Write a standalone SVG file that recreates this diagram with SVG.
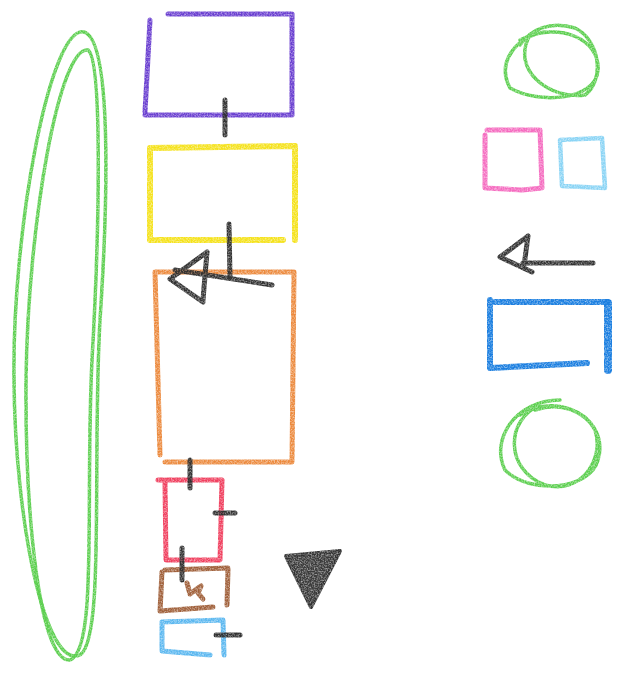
<svg xmlns="http://www.w3.org/2000/svg" width="617" height="689" viewBox="0 0 617 689">
<defs>
<filter id="crayon" filterUnits="userSpaceOnUse" x="0" y="0" width="617" height="689">
<feTurbulence type="fractalNoise" baseFrequency="0.7" numOctaves="2" seed="3" result="n"/>
<feColorMatrix in="n" type="matrix" values="0 0 0 0 0  0 0 0 0 0  0 0 0 0 0  0 0 0 -1.2 1.45" result="a"/>
<feComposite in="SourceGraphic" in2="a" operator="in"/>
</filter>
<style>
.s{fill:none;stroke-linecap:round;stroke-linejoin:round;filter:url(#crayon)}
.purple{stroke:#6a3fd0;stroke-width:5}
.yellow{stroke:#f5e21c;stroke-width:6}
.orange{stroke:#ec8a3e;stroke-width:5}
.red{stroke:#f0405f;stroke-width:5}
.brown{stroke:#a0603a;stroke-width:5}
.lblue{stroke:#5cb8f0;stroke-width:5}
.sky{stroke:#8ad4f5;stroke-width:4.5}
.pink{stroke:#f56cc0;stroke-width:5}
.blue{stroke:#1a7ee0;stroke-width:6}
.green{stroke:#5ccf4f;stroke-width:3.5}
.ink{stroke:#333;stroke-width:5}
</style>
</defs>
<rect width="617" height="689" fill="#fff"/>
<g id="ellipse-left"><path class="s green" d="M84,32 C112,40 108,200 100,320 C92,460 105,640 80,655 C45,670 15,520 14,380 C12,230 50,25 84,32 Z"/><path class="s green" d="M88,50 C102,60 100,220 92,360 C85,500 98,650 70,660 C40,662 25,520 26,380 C28,220 60,45 88,50 Z"/></g>
<g id="box-purple"><path class="s purple" d="M168,14 L292,14 L292,115 L145,115 M150,20 L145,112"/></g>
<g id="box-yellow"><path class="s yellow" d="M150,148 L295,146 L295,240 M283,240 L150,240 L150,148"/></g>
<g id="box-orange"><path class="s orange" d="M155,272 L294,272 L292,462 L165,462 M155,272 L160,455"/></g>
<g id="box-red"><path class="s red" d="M158,480 L222,480 L220,560 L166,560 L165,482"/></g>
<g id="box-brown"><path class="s brown" d="M165,570 L228,568 L227,605 M162,572 L160,611 L213,607 M187,583 L190,594 L198,588 L201,586 L198,593 L203,599"/></g>
<g id="box-lightblue"><path class="s lblue" d="M162,622 L223,620 L224,655 M162,622 L162,651 L210,655"/></g>
<g id="circle-top"><path class="s green" d="M520,40 C560,20 600,40 598,70 C596,100 540,105 510,88 C495,60 520,35 545,32 M530,35 C510,70 550,100 585,95 C605,80 600,40 575,28 C550,20 530,30 520,45"/></g>
<g id="box-pink"><path class="s pink" d="M487,130 L540,130 L542,188 L522,190 M485,135 L485,188 L522,190"/></g>
<g id="box-sky"><path class="s sky" d="M560,140 L602,138 L605,188 L562,186 L560,140"/></g>
<g id="box-blue"><path class="s blue" d="M495,302 L607,302 M490,300 L490,368 L587,363"/><path class="s blue" style="stroke-width:8" d="M608,303 L608,370"/></g>
<g id="circle-bottom"><path class="s green" d="M520,415 C560,390 610,420 598,460 C590,490 530,495 505,470 C490,440 515,400 560,400 M540,405 C505,420 505,470 545,485 C580,495 605,460 595,430 C585,410 560,402 535,410"/></g>
<g id="triangle"><path class="s" style="fill:#3a3a3a;stroke:#333;stroke-width:4" d="M286,556 L340,551 L311,607 Z"/></g>
<g id="connectors">
<path class="s ink" d="M225,100 L225,135"/>
<path class="s ink" d="M229,224 L230,277"/>
<path class="s ink" d="M272,285 L175,270 M207,252 L170,279 L203,302 M207,252 L203,300"/>
<path class="s ink" d="M190,460 L190,488"/>
<path class="s ink" d="M215,513 L235,513"/>
<path class="s ink" d="M182,548 L182,580"/>
<path class="s ink" d="M216,635 L240,635"/>
<path class="s ink" d="M593,263 L523,263 M528,236 L500,257 L532,272 M528,236 L524,266"/>
</g>
</svg>
